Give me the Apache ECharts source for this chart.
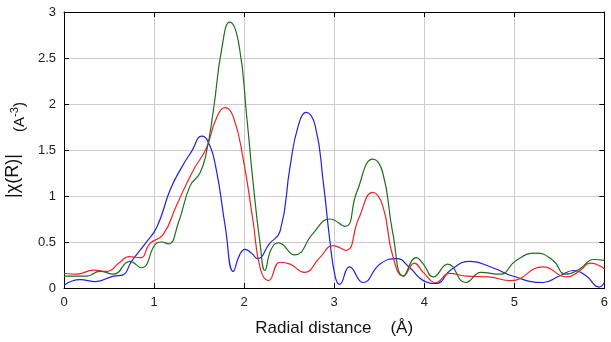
<!DOCTYPE html>
<html>
<head>
<meta charset="utf-8">
<script src="https://cdn.jsdelivr.net/npm/echarts@6/dist/echarts.min.js"></script>
<style>html,body{margin:0;padding:0;background:#fff}#c{width:611px;height:342px}</style>
</head>
<body>
<div id="c"></div>
<script>
const xTicks = [0, 1, 2, 3, 4, 5, 6];
const yTicks = [0, 0.5, 1, 1.5, 2, 2.5, 3];
const xLabel = 'Radial distance    (Å)';
const yLabel = '|χ(R)|';
const yUnit = ['(A', '-3', ')'];
const blue = [[0,0.03],[0.18,0.09],[0.35,0.07],[0.55,0.13],[0.65,0.14],[0.75,0.29],[0.9,0.48],[1.03,0.66],[1.18,1.07],[1.3,1.3],[1.42,1.49],[1.53,1.65],[1.6,1.59],[1.69,1.29],[1.79,0.67],[1.88,0.18],[1.95,0.36],[2.01,0.42],[2.08,0.38],[2.15,0.32],[2.28,0.48],[2.4,0.62],[2.51,1.32],[2.6,1.76],[2.69,1.91],[2.79,1.76],[2.88,1.14],[2.95,0.53],[3.01,0.13],[3.06,0.04],[3.17,0.23],[3.32,0.06],[3.51,0.26],[3.69,0.32],[3.84,0.22],[3.99,0.08],[4.13,0.05],[4.3,0.2],[4.51,0.29],[4.76,0.22],[4.98,0.13],[5.32,0.06],[5.5,0.13],[5.66,0.19],[5.8,0.13],[5.94,0.01],[6,0.06]];
const red = [[0,0.16],[0.14,0.15],[0.33,0.195],[0.47,0.18],[0.62,0.28],[0.72,0.34],[0.85,0.33],[0.95,0.48],[1.1,0.58],[1.25,0.9],[1.43,1.27],[1.58,1.52],[1.69,1.84],[1.79,1.96],[1.88,1.86],[1.99,1.4],[2.1,0.72],[2.18,0.21],[2.27,0.08],[2.4,0.28],[2.51,0.26],[2.67,0.17],[2.84,0.33],[2.99,0.46],[3.13,0.41],[3.27,0.75],[3.43,1.04],[3.54,0.89],[3.65,0.35],[3.77,0.13],[3.89,0.27],[3.99,0.17],[4.13,0.06],[4.28,0.16],[4.46,0.13],[4.72,0.12],[4.96,0.08],[5.32,0.23],[5.58,0.12],[5.73,0.19],[5.84,0.27],[6,0.21]];
const green = [[0,0.13],[0.25,0.13],[0.4,0.18],[0.55,0.15],[0.73,0.29],[0.86,0.22],[1.03,0.49],[1.08,0.5],[1.16,0.48],[1.27,0.71],[1.4,1.11],[1.51,1.25],[1.58,1.47],[1.66,1.94],[1.75,2.59],[1.84,2.89],[1.94,2.66],[2.03,1.85],[2.1,1.14],[2.18,0.46],[2.23,0.19],[2.3,0.42],[2.38,0.49],[2.56,0.36],[2.77,0.6],[2.95,0.75],[3.12,0.67],[3.25,1.04],[3.43,1.4],[3.54,1.25],[3.65,0.6],[3.77,0.13],[3.91,0.33],[3.99,0.26],[4.1,0.12],[4.26,0.26],[4.46,0.06],[4.63,0.17],[4.84,0.15],[5.02,0.3],[5.24,0.38],[5.43,0.3],[5.57,0.15],[5.73,0.21],[5.88,0.31],[6,0.3]];

const chart = echarts.init(document.getElementById('c'));
const font = '"Liberation Sans", Arial, sans-serif';
const axisCommon = {
  axisLine: {show: true, onZero: false, lineStyle: {color: '#000', width: 1}},
  axisTick: {show: true, inside: true, length: 5, lineStyle: {color: '#000'}},
};
const mkSeries = (name, data, color) => ({
  name, type: 'line', data, smooth: 0.5, showSymbol: false, symbol: 'none',
  lineStyle: {color, width: 1.2}, itemStyle: {color}, animation: false, clip: true
});
chart.setOption({
  animation: false,
  grid: {left: 64, right: 6, top: 12, bottom: 53},
  xAxis: [
    Object.assign({type: 'value', min: xTicks[0], max: xTicks[xTicks.length-1], interval: 1, position: 'bottom',
      name: xLabel, nameLocation: 'middle', nameGap: 32,
      nameTextStyle: {fontFamily: font, fontSize: 17, color: '#111'},
      axisLabel: {fontFamily: font, fontSize: 13, color: '#222', margin: 8},
      splitLine: {show: true, lineStyle: {color: '#cccccc', width: 1}}}, axisCommon),
    Object.assign({type: 'value', min: 0, max: 6, interval: 1, position: 'top',
      axisLabel: {show: false}, splitLine: {show: false}}, axisCommon)
  ],
  yAxis: [
    Object.assign({type: 'value', min: yTicks[0], max: yTicks[yTicks.length-1], interval: 0.5, position: 'left',
      axisLabel: {fontFamily: font, fontSize: 13, color: '#222', margin: 8},
      splitLine: {show: true, lineStyle: {color: '#cccccc', width: 1}}}, axisCommon),
    Object.assign({type: 'value', min: 0, max: 3, interval: 0.5, position: 'right',
      axisLabel: {show: false}, splitLine: {show: false}}, axisCommon)
  ],
  series: [
    mkSeries('blue', blue, '#1f1fe6'),
    mkSeries('red', red, '#ee2222'),
    mkSeries('green', green, '#1e6e1e')
  ],
  graphic: [
    {type: 'text', x: 13, y: 176, rotation: Math.PI/2,
      style: {text: yLabel, font: '18px ' + font, fill: '#111', align: 'center', verticalAlign: 'middle'}},
    {type: 'group', x: 20, y: 116, rotation: Math.PI/2, children: [
      {type: 'text', x: -16, y: 0, style: {text: yUnit[0], font: '15px ' + font, fill: '#111', align: 'left', verticalAlign: 'middle'}},
      {type: 'text', x: -1, y: -5, style: {text: yUnit[1], font: '11px ' + font, fill: '#111', align: 'left', verticalAlign: 'middle'}},
      {type: 'text', x: 9, y: 0, style: {text: yUnit[2], font: '15px ' + font, fill: '#111', align: 'left', verticalAlign: 'middle'}}
    ]}
  ]
});
</script>
</body>
</html>
